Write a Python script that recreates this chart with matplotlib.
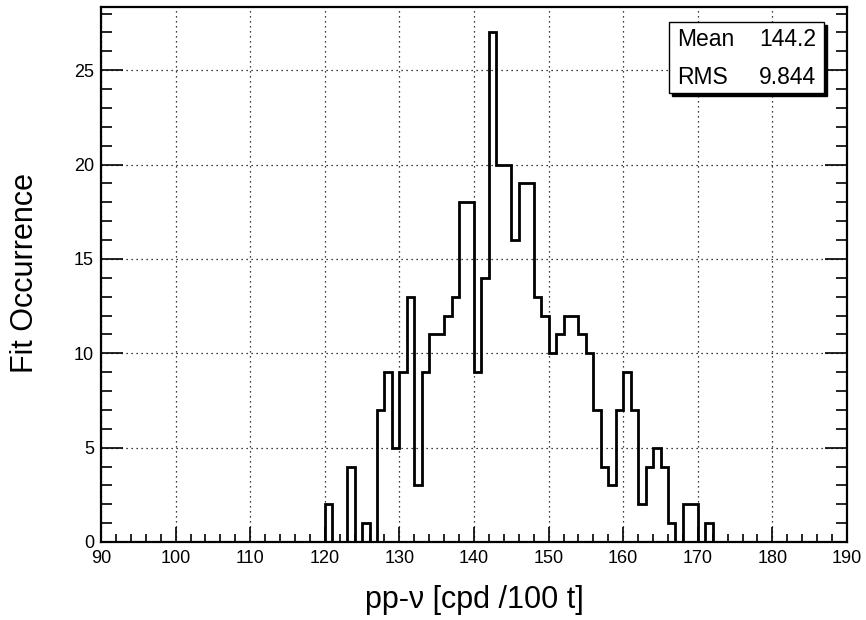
import numpy as np
import matplotlib.pyplot as plt
from matplotlib.patches import Rectangle
from matplotlib.ticker import MultipleLocator

plt.rcParams['font.family'] = ['Liberation Sans', 'DejaVu Sans']

# bin edges: 1 unit wide, from 90 to 190
edges = np.arange(90, 191, 1)

# counts for bins 120..171 (everything else empty)
first_bin = 120
counts_nonzero = [2, 0, 0, 4, 0, 1, 0, 7, 9, 5,
                  9, 13, 3, 9, 11, 11, 12, 13, 18, 18,
                  9, 14, 27, 20, 20, 16, 19, 19, 13, 12,
                  10, 11, 12, 12, 11, 10, 7, 4, 3, 7,
                  9, 7, 2, 4, 5, 4, 1, 0, 2, 2,
                  0, 1]

counts = np.zeros(len(edges) - 1)
counts[first_bin - 90:first_bin - 90 + len(counts_nonzero)] = counts_nonzero

stat_names = ["Mean", "RMS"]
stat_values = ["144.2", "9.844"]

W, H = 866, 620
fig = plt.figure(figsize=(W / 100, H / 100), dpi=100)
ax = fig.add_axes([101 / W, 1 - 542 / H, 746 / W, 535 / H])

ax.stairs(counts, edges, color="black", linewidth=2.0)

ax.set_xlim(90, 190)
ax.set_ylim(0, 28.35)

ax.xaxis.set_major_locator(MultipleLocator(10))
ax.xaxis.set_minor_locator(MultipleLocator(2))
ax.yaxis.set_major_locator(MultipleLocator(5))
ax.yaxis.set_minor_locator(MultipleLocator(1))

ax.tick_params(axis="x", which="both", direction="in", top=False, labelsize=13, pad=5.5)
ax.tick_params(axis="x", which="major", length=11, width=1.2)
ax.tick_params(axis="x", which="minor", length=5.5, width=1.2)
ax.tick_params(axis="y", which="both", direction="in", right=True, labelsize=13, pad=5)
ax.tick_params(axis="y", which="major", length=16, width=1.2)
ax.tick_params(axis="y", which="minor", length=8, width=1.2)

for s in ax.spines.values():
    s.set_linewidth(1.6)

ax.grid(True, which="major", color="black", linestyle=(0, (1, 3)), linewidth=0.9)
ax.set_axisbelow(True)

ax.set_xlabel("pp-\u03bd [cpd /100 t]", fontsize=22)
ax.set_ylabel("Fit Occurrence", fontsize=22)
ax.xaxis.set_label_coords(0.501, -0.108)
ax.yaxis.set_label_coords(-0.102, 0.503)
ax.xaxis.label.set_va("center")
ax.yaxis.label.set_va("center")

# stats box
bx0, by0, bx1, by1 = 669, 22, 824, 93
shadow = Rectangle(((bx0 + 3) / W, 1 - (by1 + 3) / H), (bx1 - bx0) / W, (by1 - by0) / H,
                   transform=fig.transFigure, facecolor="black", edgecolor="black", zorder=5)
box = Rectangle((bx0 / W, 1 - by1 / H), (bx1 - bx0) / W, (by1 - by0) / H,
                transform=fig.transFigure, facecolor="white", edgecolor="black",
                linewidth=1.0, zorder=6)
fig.patches.extend([shadow, box])
for i, (name, val) in enumerate(zip(stat_names, stat_values)):
    yy = 1 - (40 + i * 37) / H
    fig.text(677 / W, yy, name, fontsize=16.5, ha="left", va="center", zorder=7)
    fig.text(816 / W, yy, val, fontsize=16.5, ha="right", va="center", zorder=7)

fig.savefig("out.png", dpi=100)
